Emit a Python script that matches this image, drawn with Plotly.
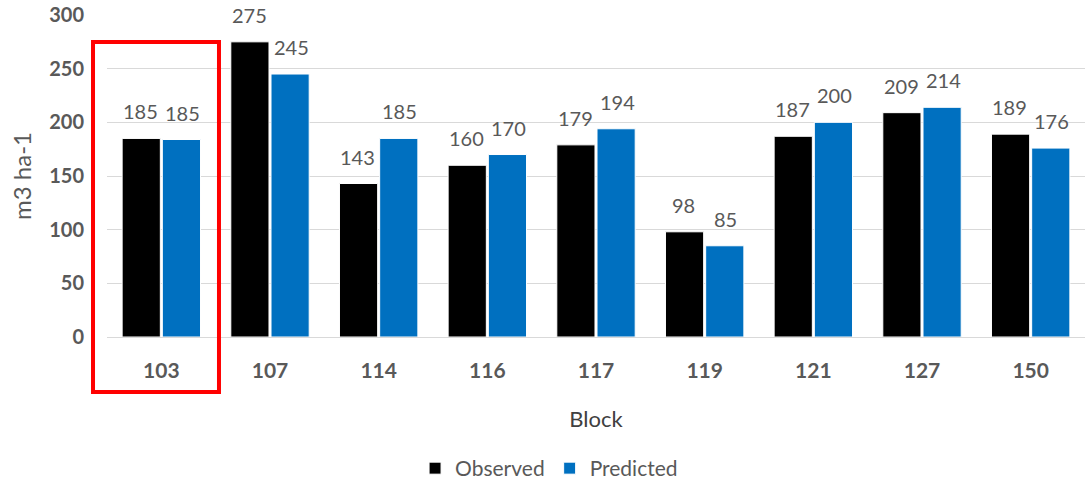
import plotly.graph_objects as go

blocks = ["103", "107", "114", "116", "117", "119", "121", "127", "150"]
observed = [185, 275, 143, 160, 179, 98, 187, 209, 189]
predicted = [184, 245, 185, 170, 194, 85, 200, 214, 176]
predicted_labels = ["185", "245", "185", "170", "194", "85", "200", "214", "176"]

grey = "#595959"
font = "Lato, 'Open Sans', sans-serif"

fig = go.Figure()
fig.add_trace(go.Bar(
    x=blocks, y=observed, name="Observed",
    marker=dict(color="#000000", line=dict(color="white", width=1)),
))
fig.add_trace(go.Bar(
    x=blocks, y=predicted, name="Predicted",
    marker=dict(color="#0070C0", line=dict(color="white", width=1)),
))

# value labels sit a bit higher above the bars than plotly's "outside" text
# (category index used for x: numeric-looking names are read as indices)
for i, v in enumerate(observed):
    fig.add_annotation(x=i, y=v, text=str(v), showarrow=False, xshift=-21,
                       yanchor="bottom", yshift=13,
                       font=dict(size=20, color=grey))
for i, (v, t) in enumerate(zip(predicted, predicted_labels)):
    fig.add_annotation(x=i, y=v, text=t, showarrow=False, xshift=21,
                       yanchor="bottom", yshift=13,
                       font=dict(size=20, color=grey))

# red highlight box around block 103
fig.add_shape(type="rect", xref="paper", yref="paper",
              x0=-0.0143, x1=0.1145, y0=-0.171, y1=0.916,
              line=dict(color="#FF0000", width=4), layer="above")

fig.update_layout(
    width=1089, height=483,
    margin=dict(l=107, r=4, t=15, b=146),
    plot_bgcolor="white", paper_bgcolor="white",
    barmode="group", bargap=0.26, bargroupgap=0.05,
    font=dict(family=font, color=grey),
    showlegend=True,
    legend=dict(orientation="h", x=0.452, xanchor="center",
                yref="container", y=0.03, yanchor="middle",
                font=dict(size=21, color=grey), itemwidth=30),
)
fig.update_xaxes(
    type="category", range=[-0.5, len(blocks) - 0.5],
    title=dict(text="Block", font=dict(size=22, color="#404040"), standoff=30),
    tickfont=dict(size=21, color=grey, weight="bold"),
    ticklabelstandoff=15,
    showline=True, linecolor="#D9D9D9", ticks="", showgrid=False,
    automargin=False,
)
fig.update_yaxes(
    title=dict(text="m3 ha-1", font=dict(size=24, color=grey), standoff=10),
    range=[0, 300], dtick=50,
    tickfont=dict(size=20, color=grey, weight="bold"),
    showgrid=True, gridcolor="#D9D9D9", gridwidth=1, zeroline=False,
    ticklabelstandoff=22, automargin=False,
)

fig.write_html("out.html", config={"displayModeBar": False},
               post_script="document.body.style.margin='0';")
